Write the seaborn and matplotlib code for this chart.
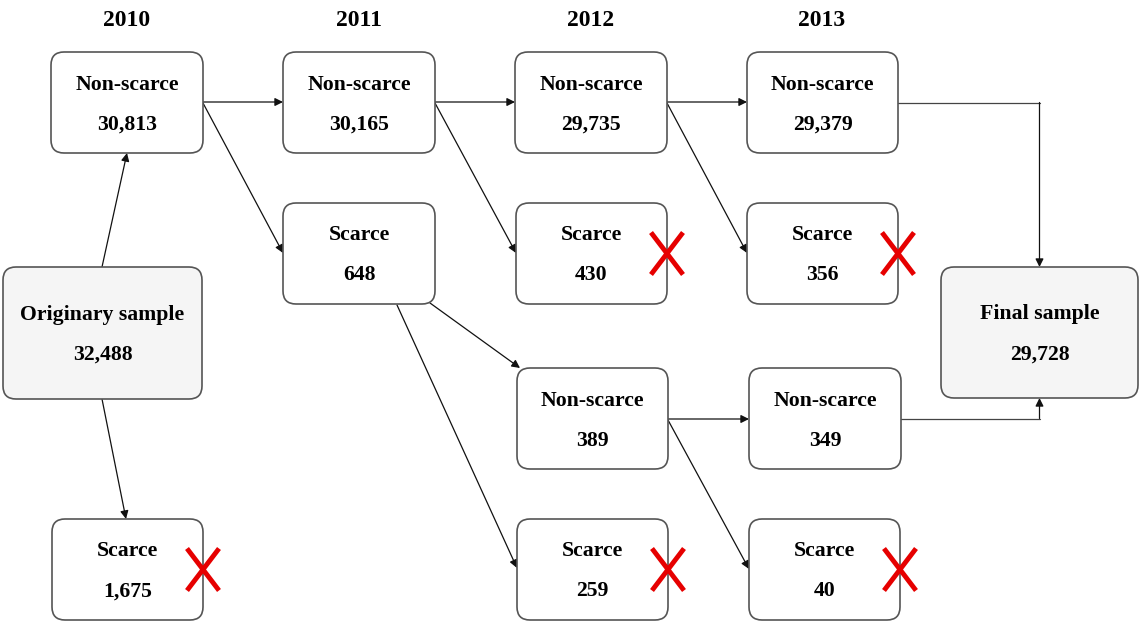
import seaborn as sns
import matplotlib.pyplot as plt
from matplotlib.patches import FancyBboxPatch

# datos del diagrama
anios = ["2010", "2011", "2012", "2013"]
nodos = ["orig", "ns10", "s10", "ns11", "s11", "ns12", "s12a", "ns12b", "s12b",
         "ns13", "s13a", "ns13b", "s13b", "final"]
etiquetas = ["Originary sample", "Non-scarce", "Scarce", "Non-scarce", "Scarce",
             "Non-scarce", "Scarce", "Non-scarce", "Scarce",
             "Non-scarce", "Scarce", "Non-scarce", "Scarce", "Final sample"]
conteos = [32488, 30813, 1675, 30165, 648, 29735, 430, 389, 259,
           29379, 356, 349, 40, 29728]
descartados = ["s10", "s12a", "s12b", "s13a", "s13b"]
flujos = [("orig", "ns10"), ("orig", "s10"), ("ns10", "ns11"), ("ns10", "s11"),
          ("ns11", "ns12"), ("ns11", "s12a"), ("ns12", "ns13"), ("ns12", "s13a"),
          ("s11", "ns12b"), ("s11", "s12b"), ("ns12b", "ns13b"), ("ns12b", "s13b")]
flujos_final = ["ns13", "ns13b"]

# layout en pixeles (x0, y0, ancho, alto)
cajas = {
    "orig": (3, 267, 199, 132), "ns10": (51, 52, 152, 101), "s10": (52, 519, 151, 101),
    "ns11": (283, 52, 152, 101), "s11": (283, 203, 152, 101),
    "ns12": (515, 52, 152, 101), "s12a": (516, 203, 151, 101),
    "ns12b": (517, 368, 151, 101), "s12b": (517, 519, 151, 101),
    "ns13": (747, 52, 151, 101), "s13a": (747, 203, 151, 101),
    "ns13b": (749, 368, 152, 101), "s13b": (749, 519, 151, 101),
    "final": (941, 267, 197, 131),
}
x_anios = [127, 359, 591, 822]
# puntos de salida/llegada de cada flecha
anclas = {
    ("orig", "ns10"): ((102, 267), (127, 153)), ("orig", "s10"): ((102, 399), (126, 519)),
    ("ns10", "ns11"): ((203, 102), (283, 102)), ("ns10", "s11"): ((203, 103), (283, 253)),
    ("ns11", "ns12"): ((435, 102), (515, 102)), ("ns11", "s12a"): ((435, 103), (516, 253)),
    ("ns12", "ns13"): ((667, 102), (747, 102)), ("ns12", "s13a"): ((667, 103), (747, 253)),
    ("s11", "ns12b"): ((430, 303), (520, 368)), ("s11", "s12b"): ((397, 305), (517, 568)),
    ("ns12b", "ns13b"): ((668, 419), (749, 419)), ("ns12b", "s13b"): ((668, 420), (749, 569)),
}

sns.set_theme(style="white")
plt.rcParams['font.family'] = ['Liberation Serif', 'DejaVu Serif']

fig = plt.figure(figsize=(11.4, 6.22), dpi=100)
ax = fig.add_axes([0, 0, 1, 1])
ax.set_xlim(0, 1140)
ax.set_ylim(622, 0)
ax.axis("off")

fs = 15.7
for anio, x in zip(anios, x_anios):
    ax.text(x, 26, anio, ha="center", va="baseline", fontsize=17, fontweight="bold",
            color="black")

flecha = dict(arrowstyle="-|>", color="#111111", lw=0.9, shrinkA=0, shrinkB=0,
              mutation_scale=12)

for (a, b) in flujos:
    p0, p1 = anclas[(a, b)]
    ax.annotate("", xy=p1, xytext=p0, arrowprops=flecha)

# conexiones en codo hacia la muestra final
fx, fy, fw, fh = cajas["final"]
xc = fx + fw / 2
for n in flujos_final:
    x0, y0, w, h = cajas[n]
    ym = y0 + h / 2
    y_dest = fy if ym < fy else fy + fh
    ax.plot([x0 + w, xc], [ym, ym], color="#444444", lw=0.9)
    ax.annotate("", xy=(xc, y_dest), xytext=(xc, ym), arrowprops=flecha)

for n, et, c in zip(nodos, etiquetas, conteos):
    x0, y0, w, h = cajas[n]
    fondo = "#f5f5f5" if n in ("orig", "final") else "white"
    caja = FancyBboxPatch((x0, y0), w, h, boxstyle="round,pad=0,rounding_size=13",
                          fc=fondo, ec="#555555", lw=1.2, zorder=3)
    ax.add_patch(caja)
    cy = y0 + h / 2
    ax.text(x0 + w / 2, cy - 13, et, ha="center", va="baseline", fontsize=fs,
            fontweight="bold", color="black", zorder=4)
    ax.text(x0 + w / 2, cy + 27, f"{c:,}", ha="center", va="baseline", fontsize=fs,
            fontweight="bold", color="black", zorder=4)
    if n in descartados:
        xr, yc = x0 + w, cy
        ax.plot([xr - 16, xr + 16], [yc - 21, yc + 21], color="#e60000", lw=3.5,
                solid_capstyle="butt", zorder=5)
        ax.plot([xr - 16, xr + 16], [yc + 21, yc - 21], color="#e60000", lw=3.5,
                solid_capstyle="butt", zorder=5)

fig.savefig("out.png", dpi=100, facecolor="white")
